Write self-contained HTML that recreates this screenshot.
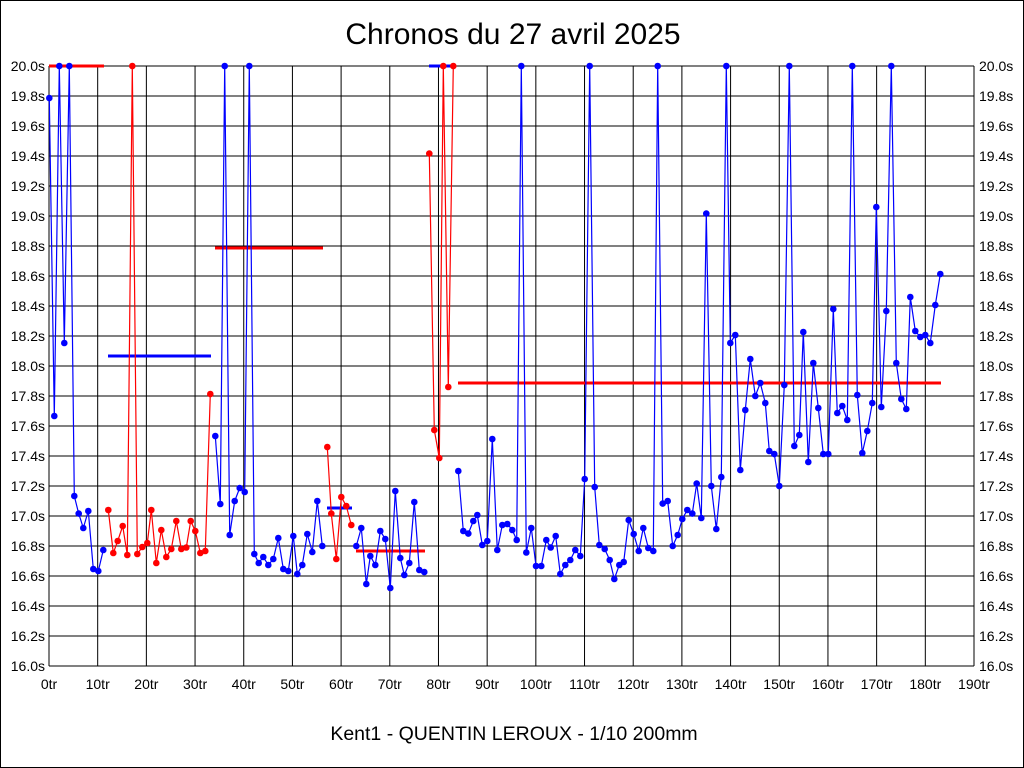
<!DOCTYPE html>
<html><head><meta charset="utf-8"><style>
html,body{margin:0;padding:0;background:#fff;}
svg{display:block;}
text{font-family:"Liberation Sans",sans-serif;}
</style></head><body>
<svg id="s" width="1024" height="768" xmlns="http://www.w3.org/2000/svg">
<rect x="0.5" y="0.5" width="1023" height="767" fill="#fff" stroke="#000"/>
<text x="513" y="44" font-size="30" text-anchor="middle">Chronos du 27 avril 2025</text>
<text x="514" y="740" font-size="19.5" text-anchor="middle">Kent1 - QUENTIN LEROUX - 1/10 200mm</text>
<g id="grid"></g>
<g id="data"></g>
</svg>
<script>
var ns="http://www.w3.org/2000/svg";
function el(p,t,a,txt){var e=document.createElementNS(ns,t);for(var k in a)e.setAttribute(k,a[k]);if(txt!==undefined)e.textContent=txt;p.appendChild(e);return e;}
var g=document.getElementById('grid'),d=document.getElementById('data');
var L=49,R=974,T=66,B=666;
for(var i=0;i<=20;i++){var y=T+i*30;el(g,'line',{x1:L,x2:R,y1:y,y2:y,stroke:'#000','stroke-width':1});
var v=(20-i*0.2).toFixed(1)+'s';
el(g,'text',{x:L-4,y:y+5,'font-size':14,'text-anchor':'end'},v);
el(g,'text',{x:R+5,y:y+5,'font-size':14},v);}
for(var i=0;i<=19;i++){var x=L+i*(R-L)/19;el(g,'line',{x1:x,x2:x,y1:T,y2:B,stroke:'#000','stroke-width':1});
el(g,'text',{x:x,y:689,'font-size':14,'text-anchor':'middle'},(i*10)+'tr');}
function hl(x1,x2,y,c){el(d,'line',{x1:x1,x2:x2,y1:y,y2:y,stroke:c,'stroke-width':3});}
hl(49,104,66,'red');hl(108,211,356,'blue');hl(215,323,248,'red');hl(327,352,508,'blue');hl(356,425,551,'red');hl(429,453,66,'blue');hl(458,941,383,'red');
var segs=[
['blue',[[49.3,98],[54.3,416],[59.3,66],[64.3,343],[69.3,66],[74.3,496],[78.7,513.6],[83.3,528],[88.3,511],[93.3,569],[98.3,571],[103.3,550]]],
['red',[[108.3,510],[113.3,553],[117.7,541],[122.7,526],[127.3,555],[132.3,66],[137.3,554],[142.3,547],[147.3,543],[151.3,510],[156.3,563],[161.3,530],[166.3,557],[171.3,549],[176.3,521],[181.3,549],[186.3,547.5],[190.7,521],[195.3,531],[200.3,553],[205.3,551],[210.3,394]]],
['blue',[[215.3,436],[220.3,504],[224.7,66],[229.7,535],[234.7,501],[239.7,488],[244.7,492],[249.3,66],[254.3,554],[258.7,563],[263.3,557],[268.3,565],[273.3,559],[278.3,538],[283.3,569],[288.3,571],[293.3,536],[297.3,574],[302.3,565],[307.3,534],[312.3,552],[317.3,501],[322.3,546]]],
['red',[[327.3,447],[331.3,513.6],[336.3,559],[341.3,497],[346.3,506],[351.3,525]]],
['blue',[[356.3,546],[361.3,528],[366.3,584],[370.3,556],[375.3,565],[380.3,531],[385.3,539],[390.3,588],[395.3,491],[400.3,558],[404.3,575],[409.3,563],[414.3,502],[419.3,570],[424.3,572]]],
['red',[[429.3,153.6],[434.3,430],[439.3,458],[443.3,66],[448.3,387],[453.3,66]]],
['blue',[[458.3,471],[463.3,531],[468.3,533.6],[473.3,521],[477.3,515],[482.3,545],[487.3,541],[492.3,439],[497.3,550],[502.3,525],[507.3,524],[512.3,530],[516.7,540],[521.3,66],[526.3,552.5],[531.3,528],[536,566],[541.3,566],[546.3,540],[550.7,547.5],[555.7,536],[560.3,574],[565.3,565],[570.3,560],[575.3,550],[580.3,556],[584.7,479],[589.7,66],[594.7,487],[599.3,545],[604.7,549],[609.7,560],[614.3,579],[619.3,565],[623.7,562],[628.7,520],[633.7,534],[638.7,551],[643.3,528],[648.3,548],[653.3,551],[657.7,66],[662.7,503.6],[667.7,501],[672.7,546],[677.7,535],[682.3,519],[687.3,510],[692.3,513.6],[696.7,483.6],[701.3,518],[706.3,213.6],[711.3,486],[716.3,529],[721.3,477],[726.3,66],[730.3,343],[735.3,335],[740.3,470],[745.3,410],[750.3,359],[755.3,396],[760.3,383],[765.3,403],[769.3,451],[774.3,454],[779.3,486],[784.3,385],[789.3,66],[794.3,446],[799.3,435],[803.3,332],[808.3,462],[813.3,363],[818.3,408],[823.3,454],[828.3,454],[833.3,309],[837.3,413],[842.3,406],[847.3,420],[852.3,66],[857.3,395],[862.3,453],[867.3,431],[872.3,403],[876.3,207],[881.3,407],[886.3,311],[891.3,66],[896.3,363],[901.3,399],[906.3,409],[910.3,297],[915.3,331],[920.3,337],[925.3,335],[930.3,343],[935.3,305],[940.3,274]]]
];
segs.forEach(function(s){
var c=s[0]=='red'?'#f00':'#00f';
el(d,'polyline',{points:s[1].map(function(p){return p[0]+','+p[1];}).join(' '),fill:'none',stroke:c,'stroke-width':1.2});
s[1].forEach(function(p){el(d,'circle',{cx:p[0],cy:p[1],r:3.3,fill:c});});
});
</script>
</body></html>
